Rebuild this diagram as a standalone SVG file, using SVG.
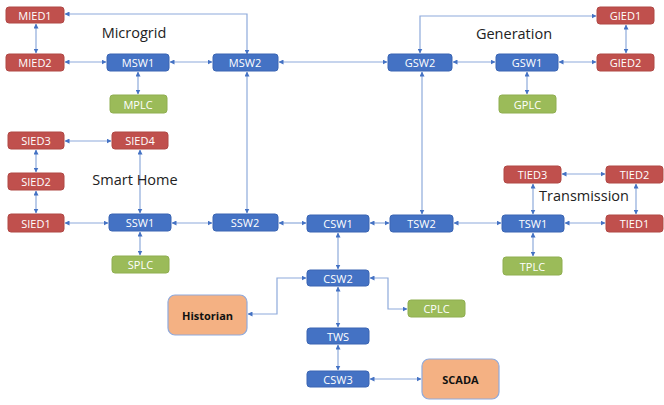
<svg xmlns="http://www.w3.org/2000/svg" width="664" height="405" viewBox="0 0 664 405">
<style>
.r rect{fill:#c0504d;stroke:#b04845;stroke-width:1}
.b rect{fill:#4472c4;stroke:#3a65b3;stroke-width:1}
.g rect{fill:#9bbb59;stroke:#8fae50;stroke-width:1}
.o rect{fill:#f4b183;stroke:#8faadc;stroke-width:1.2}
text{font-family:"Open Sans","Liberation Sans",sans-serif;text-anchor:middle;dominant-baseline:central}
.r text,.b text,.g text{fill:#fff;font-size:11px}
.o text{fill:#111;font-size:11px;font-weight:bold}
.lbl{fill:#222;font-size:14.5px}
#conn path{fill:none;stroke:#8eaadb;stroke-width:1.2;marker-start:url(#a);marker-end:url(#a)}
</style>
<defs>
<marker id="a" viewBox="0 0 10 10" refX="9" refY="5" markerWidth="5" markerHeight="5" orient="auto-start-reverse" markerUnits="userSpaceOnUse"><path d="M0,0 L10,5 L0,10 z" fill="#4472c4"/></marker>
</defs>
<g id="conn">
<path d="M247,54 L247,14 L65,14"/>
<path d="M36,24 L36,53"/>
<path d="M65,62 L106,62"/>
<path d="M170,62 L212,62"/>
<path d="M138,72 L138,94"/>
<path d="M279,62 L387,62"/>
<path d="M453,62 L495,62"/>
<path d="M559,62 L596,62"/>
<path d="M420,53 L420,16 L596,16"/>
<path d="M626,25 L626,53"/>
<path d="M527,72 L527,94"/>
<path d="M247,72 L247,213"/>
<path d="M422,72 L422,214"/>
<path d="M65,141 L111,141"/>
<path d="M36,150 L36,172"/>
<path d="M36,191 L36,213"/>
<path d="M140,150 L140,213"/>
<path d="M65,223 L108,223"/>
<path d="M172,223 L212,223"/>
<path d="M279,223 L306,223"/>
<path d="M370,223 L389,223"/>
<path d="M454,223 L501,223"/>
<path d="M565,223 L605,223"/>
<path d="M140,232 L140,255"/>
<path d="M533,184 L533,214"/>
<path d="M562,174 L605,174"/>
<path d="M636,184 L636,214"/>
<path d="M533,233 L533,256"/>
<path d="M338,233 L338,269"/>
<path d="M306,278 L277,278 L277,314 L248,314"/>
<path d="M370,278 L388,278 L388,309 L407,309"/>
<path d="M338,287 L338,327"/>
<path d="M338,345 L338,370"/>
<path d="M370,379 L421,379"/>
</g>
<text class="lbl" x="134" y="32">Microgrid</text>
<text class="lbl" x="514" y="33">Generation</text>
<text class="lbl" x="135" y="179">Smart Home</text>
<text class="lbl" x="584" y="195">Transmission</text>
<g id="MIED1" class="r"><rect x="6" y="7" width="58" height="16" rx="3"/><text x="35" y="15">MIED1</text></g>
<g id="MIED2" class="r"><rect x="6" y="54" width="58" height="17" rx="3"/><text x="35" y="62.5">MIED2</text></g>
<g id="MSW1" class="b"><rect x="107" y="54" width="62" height="17" rx="3"/><text x="138" y="62.5">MSW1</text></g>
<g id="MSW2" class="b"><rect x="213" y="54" width="65" height="17" rx="3"/><text x="245" y="62.5">MSW2</text></g>
<g id="MPLC" class="g"><rect x="110" y="95" width="57" height="18" rx="3"/><text x="138" y="104">MPLC</text></g>
<g id="GSW2" class="b"><rect x="388" y="54" width="64" height="17" rx="3"/><text x="420" y="62.5">GSW2</text></g>
<g id="GSW1" class="b"><rect x="496" y="54" width="62" height="17" rx="3"/><text x="527" y="62.5">GSW1</text></g>
<g id="GIED1" class="r"><rect x="597" y="7" width="57" height="17" rx="3"/><text x="625.5" y="15.5">GIED1</text></g>
<g id="GIED2" class="r"><rect x="597" y="54" width="57" height="17" rx="3"/><text x="625.5" y="62.5">GIED2</text></g>
<g id="GPLC" class="g"><rect x="499" y="95" width="57" height="18" rx="3"/><text x="527.5" y="104">GPLC</text></g>
<g id="SIED3" class="r"><rect x="8" y="132" width="56" height="17" rx="3"/><text x="36" y="140.5">SIED3</text></g>
<g id="SIED4" class="r"><rect x="112" y="132" width="56" height="17" rx="3"/><text x="140" y="140.5">SIED4</text></g>
<g id="SIED2" class="r"><rect x="8" y="173" width="56" height="17" rx="3"/><text x="36" y="181.5">SIED2</text></g>
<g id="SIED1" class="r"><rect x="8" y="214" width="56" height="18" rx="3"/><text x="36" y="223">SIED1</text></g>
<g id="SSW1" class="b"><rect x="109" y="214" width="62" height="17" rx="3"/><text x="140" y="222.5">SSW1</text></g>
<g id="SSW2" class="b"><rect x="213" y="214" width="65" height="17" rx="3"/><text x="245" y="222.5">SSW2</text></g>
<g id="SPLC" class="g"><rect x="112" y="256" width="57" height="17" rx="3"/><text x="140.5" y="264.5">SPLC</text></g>
<g id="CSW1" class="b"><rect x="307" y="215" width="62" height="17" rx="3"/><text x="338" y="223.5">CSW1</text></g>
<g id="TSW2" class="b"><rect x="390" y="215" width="63" height="17" rx="3"/><text x="421.5" y="223.5">TSW2</text></g>
<g id="TSW1" class="b"><rect x="502" y="215" width="62" height="17" rx="3"/><text x="533" y="223.5">TSW1</text></g>
<g id="TIED1" class="r"><rect x="606" y="215" width="57" height="17" rx="3"/><text x="634.5" y="223.5">TIED1</text></g>
<g id="TIED3" class="r"><rect x="504" y="166" width="57" height="17" rx="3"/><text x="532.5" y="174.5">TIED3</text></g>
<g id="TIED2" class="r"><rect x="606" y="166" width="57" height="17" rx="3"/><text x="634.5" y="174.5">TIED2</text></g>
<g id="TPLC" class="g"><rect x="503" y="257" width="59" height="18" rx="3"/><text x="532.5" y="266">TPLC</text></g>
<g id="CSW2" class="b"><rect x="307" y="270" width="62" height="16" rx="3"/><text x="338" y="278">CSW2</text></g>
<g id="TWS" class="b"><rect x="307" y="328" width="62" height="16" rx="3"/><text x="338" y="336">TWS</text></g>
<g id="CSW3" class="b"><rect x="307" y="371" width="62" height="16" rx="3"/><text x="338" y="379">CSW3</text></g>
<g id="CPLC" class="g"><rect x="408" y="300" width="57" height="17" rx="3"/><text x="436.5" y="308.5">CPLC</text></g>
<g id="Historian" class="o"><rect x="168" y="295" width="79" height="40" rx="7"/><text x="207.5" y="315">Historian</text></g>
<g id="SCADA" class="o"><rect x="422" y="359" width="77" height="40" rx="7"/><text x="460.5" y="379">SCADA</text></g>
</svg>
